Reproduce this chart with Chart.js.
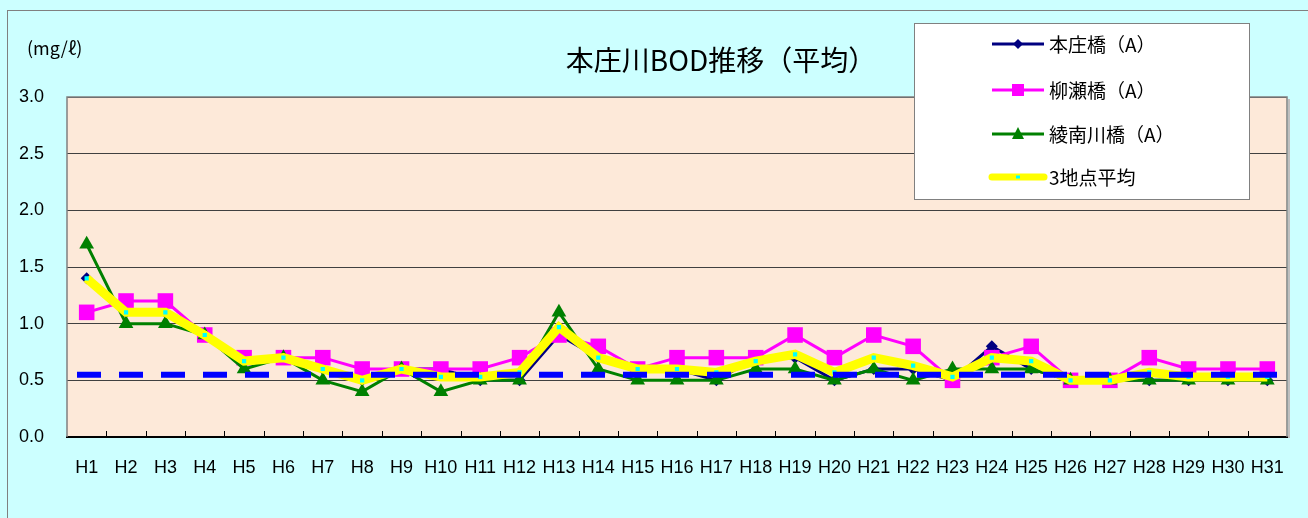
<!DOCTYPE html>
<html>
<head>
<meta charset="utf-8">
<script src="https://cdn.jsdelivr.net/npm/chart.js@4"></script>
<style>
  html, body { margin: 0; padding: 0; background: #ccffff; }
  #wrap { width: 1308px; height: 518px; }
</style>
</head>
<body>
<div id="wrap"><canvas id="myChart" width="1308" height="518"></canvas></div>
<script>
// data
const years = ["H1","H2","H3","H4","H5","H6","H7","H8","H9","H10","H11","H12","H13","H14","H15","H16",
  "H17","H18","H19","H20","H21","H22","H23","H24","H25","H26","H27","H28","H29","H30","H31"];
const honjo = [1.4,1.1,1.1,0.9,0.7,0.7,0.6,0.5,0.6,0.6,0.5,0.5,0.9,0.7,0.6,0.6,
  0.5,0.7,0.7,0.5,0.6,0.6,0.5,0.8,0.6,0.5,0.5,0.5,0.5,0.5,0.5];
const yanagase = [1.1,1.2,1.2,0.9,0.7,0.7,0.7,0.6,0.6,0.6,0.6,0.7,0.9,0.8,0.6,0.7,
  0.7,0.7,0.9,0.7,0.9,0.8,0.5,0.7,0.8,0.5,0.5,0.7,0.6,0.6,0.6];
const ryonan = [1.7,1.0,1.0,0.9,0.6,0.7,0.5,0.4,0.6,0.4,0.5,0.5,1.1,0.6,0.5,0.5,
  0.5,0.6,0.6,0.5,0.6,0.5,0.6,0.6,0.6,0.5,0.5,0.5,0.5,0.5,0.5];
const average = [1.4,1.1,1.1,0.9,0.67,0.7,0.6,0.5,0.6,0.53,0.53,0.57,0.97,0.7,0.6,0.6,
  0.57,0.67,0.73,0.57,0.7,0.63,0.53,0.7,0.67,0.5,0.5,0.57,0.53,0.53,0.53];
const refLevel = 0.55; // blue dashed line
const yTicks = [0,0.5,1.0,1.5,2.0,2.5,3.0];

const seriesNames = ["本庄橋（A）","柳瀬橋（A）","綾南川橋（A）","3地点平均"];
const jp = "'Noto Sans CJK JP', 'Noto Sans', sans-serif";

// backgrounds, frame, title, legend and the dashed line
const decor = {
  id: "decor",
  beforeDraw(chart) {
    const c = chart.ctx, a = chart.chartArea;
    c.save();
    c.fillStyle = "#ccffff";
    c.fillRect(0, 0, chart.width, chart.height);
    c.strokeStyle = "#808080";
    c.lineWidth = 1;
    c.strokeRect(7.5, 10.5, 1400, 600);
    c.fillStyle = "#fde9d9";
    c.fillRect(a.left, a.top, a.right - a.left, a.bottom - a.top);
    c.restore();
  },
  afterDatasetsDraw(chart) {
    const c = chart.ctx, a = chart.chartArea;
    const ys = chart.scales.y, xs = chart.scales.x;
    c.save();
    // plot frame
    c.strokeStyle = "#808080";
    c.lineWidth = 1.5;
    c.beginPath();
    c.moveTo(a.left, a.bottom);
    c.lineTo(a.left, a.top);
    c.lineTo(a.right, a.top);
    c.lineTo(a.right, a.bottom);
    c.stroke();
    c.strokeStyle = "#bfbfbf";
    c.lineWidth = 2;
    c.beginPath();
    c.moveTo(a.right + 2, a.top + 2);
    c.lineTo(a.right + 2, a.bottom + 1);
    c.stroke();
    // small ticks on the category axis
    const step = xs.getPixelForValue(1) - xs.getPixelForValue(0);
    c.strokeStyle = "#000";
    c.lineWidth = 1;
    for (let i = 1; i < years.length; i++) {
      const x = Math.round(xs.getPixelForValue(i) - step / 2) + 0.5;
      c.beginPath();
      c.moveTo(x, a.bottom);
      c.lineTo(x, a.bottom - 6);
      c.stroke();
    }
    // dashed reference line
    const yr = ys.getPixelForValue(refLevel);
    c.strokeStyle = "#0000ff";
    c.lineWidth = 6;
    c.setLineDash([24, 18]);
    c.beginPath();
    c.moveTo(a.left + 10, yr);
    c.lineTo(a.right - 10, yr);
    c.stroke();
    c.setLineDash([]);
    c.restore();
  },
  afterDraw(chart) {
    const c = chart.ctx;
    c.save();
    // unit + title
    c.fillStyle = "#000";
    c.textBaseline = "middle";
    c.font = "18px " + jp;
    c.textAlign = "left";
    c.fillText("(mg/ℓ)", 27, 48);
    c.font = "28px " + jp;
    c.textAlign = "center";
    c.fillText("本庄川BOD推移（平均）", 721, 60);
    // legend box
    c.fillStyle = "#fff";
    c.fillRect(914, 23, 335, 176);
    c.strokeStyle = "#808080";
    c.lineWidth = 1;
    c.strokeRect(914.5, 23.5, 335, 176);
    const rows = [44, 90, 134, 177];
    const ds = chart.data.datasets;
    for (let i = 0; i < 4; i++) {
      const d = ds[i], y = rows[i];
      c.strokeStyle = d.borderColor;
      c.lineWidth = i === 3 ? 7 : 3;
      c.lineCap = i === 3 ? "round" : "butt";
      c.beginPath();
      c.moveTo(992, y);
      c.lineTo(1044, y);
      c.stroke();
      c.lineCap = "butt";
      c.fillStyle = d.pointBackgroundColor;
      c.beginPath();
      if (i === 0) {
        c.moveTo(1018, y - 5); c.lineTo(1023, y); c.lineTo(1018, y + 5); c.lineTo(1013, y);
      } else if (i === 1) {
        c.rect(1012, y - 6, 12, 12);
      } else if (i === 2) {
        c.moveTo(1018, y - 7); c.lineTo(1024, y + 5); c.lineTo(1012, y + 5);
      } else {
        c.rect(1016, y - 1.5, 4, 3);
      }
      c.closePath();
      c.fill();
      c.fillStyle = "#000";
      c.font = "19px " + jp;
      c.textAlign = "left";
      c.fillText(seriesNames[i], 1049, y + 1);
    }
    c.restore();
  }
};

const ctx = document.getElementById("myChart");
new Chart(ctx, {
  type: "line",
  plugins: [decor],
  data: {
    labels: years,
    datasets: [
      {
        label: seriesNames[0], data: honjo, order: 4,
        borderColor: "#000080", backgroundColor: "#000080", pointBackgroundColor: "#000080",
        borderWidth: 3, pointStyle: "rectRot", pointRadius: 6, pointBorderWidth: 0, tension: 0
      },
      {
        label: seriesNames[1], data: yanagase, order: 3,
        borderColor: "#ff00ff", backgroundColor: "#ff00ff", pointBackgroundColor: "#ff00ff",
        borderWidth: 3, pointStyle: "rect", pointRadius: 11, pointBorderWidth: 0, tension: 0
      },
      {
        label: seriesNames[2], data: ryonan, order: 2,
        borderColor: "#008000", backgroundColor: "#008000", pointBackgroundColor: "#008000",
        borderWidth: 3, pointStyle: "triangle", pointRadius: 8.5, pointBorderWidth: 0, tension: 0
      },
      {
        label: seriesNames[3], data: average, order: 1,
        borderColor: "#ffff00", backgroundColor: "#00ffff", pointBackgroundColor: "#00ffff",
        borderWidth: 9, pointStyle: "rect", pointRadius: 3, pointBorderWidth: 0, tension: 0
      }
    ]
  },
  options: {
    responsive: false,
    animation: false,
    events: [],
    layout: { padding: { left: 7, top: 97, right: 21, bottom: 0 } },
    plugins: {
      legend: { display: false },
      title: { display: false },
      tooltip: { enabled: false }
    },
    scales: {
      x: {
        offset: true,
        grid: { display: false },
        border: { display: true, color: "#000", width: 2 },
        ticks: { color: "#000", font: { size: 18, family: "'Liberation Sans', Arial, sans-serif" }, padding: 12, maxRotation: 0, autoSkip: false },
        afterFit: s => { s.height = 81; }
      },
      y: {
        min: 0, max: 3,
        afterBuildTicks: s => { s.ticks = yTicks.map(v => ({ value: v })); },
        grid: { color: "#404040", lineWidth: 1, drawTicks: false },
        border: { display: false },
        ticks: {
          color: "#000", padding: 23,
          font: { size: 18, family: "'Liberation Sans', Arial, sans-serif" },
          callback: v => Number(v).toFixed(1)
        },
        afterFit: s => { s.width = 60; }
      }
    }
  }
});
</script>
</body>
</html>
